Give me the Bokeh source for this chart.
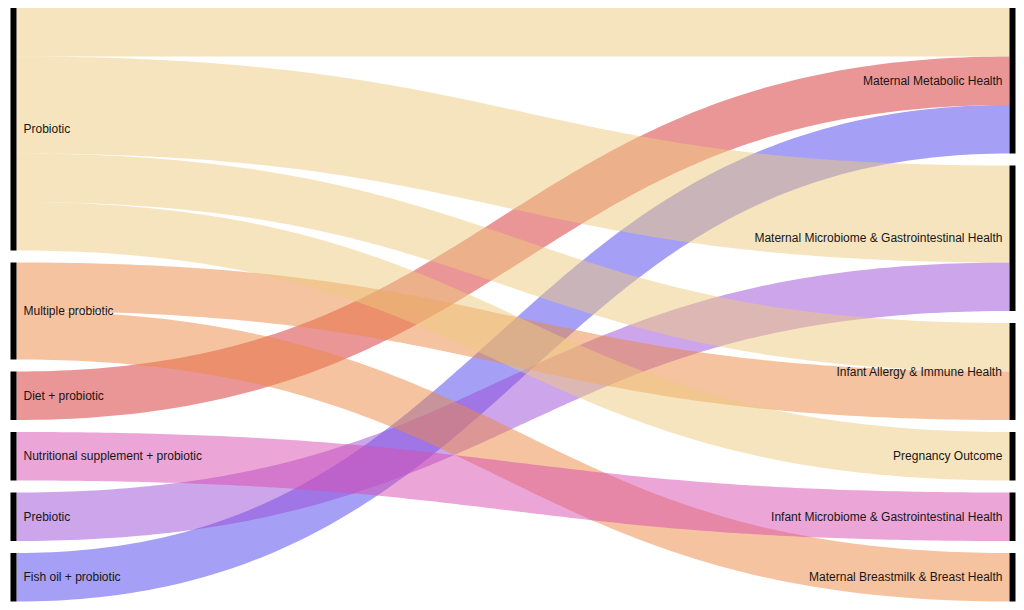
import numpy as np
from bokeh.plotting import figure
from bokeh.models import ColumnDataSource, Range1d
from bokeh.embed import file_html
from bokeh.resources import INLINE
from bokeh.core.properties import value

# Interventions (left column) and outcomes (right column)
interventions = [
    "Probiotic",
    "Multiple probiotic",
    "Diet + probiotic",
    "Nutritional supplement + probiotic",
    "Prebiotic",
    "Fish oil + probiotic",
]
outcomes = [
    "Maternal Metabolic Health",
    "Maternal Microbiome & Gastrointestinal Health",
    "Infant Allergy & Immune Health",
    "Pregnancy Outcome",
    "Infant Microbiome & Gastrointestinal Health",
    "Maternal Breastmilk & Breast Health",
]

# Links: number of studies per intervention -> outcome
link_source = [
    "Probiotic", "Probiotic", "Probiotic", "Probiotic",
    "Multiple probiotic", "Multiple probiotic",
    "Diet + probiotic",
    "Nutritional supplement + probiotic",
    "Prebiotic",
    "Fish oil + probiotic",
]
link_target = [
    "Maternal Metabolic Health",
    "Maternal Microbiome & Gastrointestinal Health",
    "Infant Allergy & Immune Health",
    "Pregnancy Outcome",
    "Infant Allergy & Immune Health",
    "Maternal Breastmilk & Breast Health",
    "Maternal Metabolic Health",
    "Infant Microbiome & Gastrointestinal Health",
    "Maternal Microbiome & Gastrointestinal Health",
    "Maternal Metabolic Health",
]
link_value = [1, 2, 1, 1, 1, 1, 1, 1, 1, 1]

intervention_colors = {
    "Probiotic": "#EDC97D",
    "Multiple probiotic": "#EB8741",
    "Diet + probiotic": "#D52D2D",
    "Nutritional supplement + probiotic": "#D94BAF",
    "Prebiotic": "#9B4BD7",
    "Fish oil + probiotic": "#4B41EB",
}
link_draw_order = [
    "Diet + probiotic",
    "Fish oil + probiotic",
    "Prebiotic",
    "Multiple probiotic",
    "Nutritional supplement + probiotic",
    "Probiotic",
]

# ---- layout geometry (screen-like units, y grows downward) ----
W, H = 1024, 610
top, bottom = 7.5, 601.0
gap = 12.0
node_w = 6.0
left_x0, right_x0 = 10.0, 1009.0


def node_totals(names, key_list):
    return [sum(v for k, v in zip(key_list, link_value) if k == n) for n in names]


left_tot = node_totals(interventions, link_source)
right_tot = node_totals(outcomes, link_target)
ky = (bottom - top - gap * (len(interventions) - 1)) / sum(left_tot)


def stack(totals):
    ys, y = [], top
    for t in totals:
        ys.append((y, y + t * ky))
        y += t * ky + gap
    return ys


left_pos = dict(zip(interventions, stack(left_tot)))
right_pos = dict(zip(outcomes, stack(right_tot)))

# order links inside each node by the position of the opposite node
n_links = len(link_value)
src_off = {n: left_pos[n][0] for n in interventions}
tgt_off = {n: right_pos[n][0] for n in outcomes}
link_y0 = [0.0] * n_links
link_y1 = [0.0] * n_links
for i in sorted(range(n_links), key=lambda i: outcomes.index(link_target[i])):
    s = link_source[i]
    w = link_value[i] * ky
    link_y0[i] = src_off[s] + w / 2
    src_off[s] += w
for i in sorted(range(n_links), key=lambda i: interventions.index(link_source[i])):
    t = link_target[i]
    w = link_value[i] * ky
    link_y1[i] = tgt_off[t] + w / 2
    tgt_off[t] += w


def ribbon(xa, ya, xb, yb, w, n=160):
    """Band of constant width around a horizontal cubic Bezier centreline."""
    xm = (xa + xb) / 2
    t = np.linspace(0, 1, n)
    u = 1 - t
    x = u**3 * xa + 3 * u**2 * t * xm + 3 * u * t**2 * xm + t**3 * xb
    y = u**3 * ya + 3 * u**2 * t * ya + 3 * u * t**2 * yb + t**3 * yb
    dx = 3 * u**2 * (xm - xa) + 3 * t**2 * (xb - xm)
    dy = 6 * u * t * (yb - ya)
    L = np.hypot(dx, dy)
    nx, ny = -dy / L, dx / L
    hx, hy = nx * w / 2, ny * w / 2
    px = np.concatenate([x + hx, (x - hx)[::-1]])
    py = np.concatenate([y + hy, (y - hy)[::-1]])
    return list(px), list(py)


lx, ly, lc = [], [], []
for s_name in link_draw_order:
    for i in range(n_links):
        if link_source[i] != s_name:
            continue
        px, py = ribbon(left_x0 + node_w, link_y0[i], right_x0, link_y1[i], link_value[i] * ky)
        lx.append(px)
        ly.append(py)
        lc.append(intervention_colors[s_name])

p = figure(
    width=W, height=H, output_backend="svg", toolbar_location=None,
    x_range=Range1d(0, W), y_range=Range1d(H, 0),
    min_border=0, background_fill_color="white", border_fill_color="white",
)
p.axis.visible = False
p.grid.visible = False
p.outline_line_color = None

p.patches(xs="xs", ys="ys", fill_color="color", fill_alpha=0.5, line_color=None,
          source=ColumnDataSource(dict(xs=lx, ys=ly, color=lc)))

# node bars
nl = [left_x0] * len(interventions) + [right_x0] * len(outcomes)
nt = [left_pos[n][0] for n in interventions] + [right_pos[n][0] for n in outcomes]
nb = [left_pos[n][1] for n in interventions] + [right_pos[n][1] for n in outcomes]
p.quad(left=nl, right=[v + node_w for v in nl], top=nt, bottom=nb,
       fill_color="black", line_color=None)

# labels
p.text(x=[left_x0 + node_w + 7] * len(interventions),
       y=[sum(left_pos[n]) / 2 for n in interventions],
       text=interventions, text_align="left", text_baseline="middle",
       text_font=value("Liberation Sans"), text_font_size="12px", text_color="#161616")
p.text(x=[right_x0 - 7] * len(outcomes),
       y=[sum(right_pos[n]) / 2 for n in outcomes],
       text=outcomes, text_align="right", text_baseline="middle",
       text_font=value("Liberation Sans"), text_font_size="12px", text_color="#161616")

open("out.html", "w").write(file_html(p, INLINE))
